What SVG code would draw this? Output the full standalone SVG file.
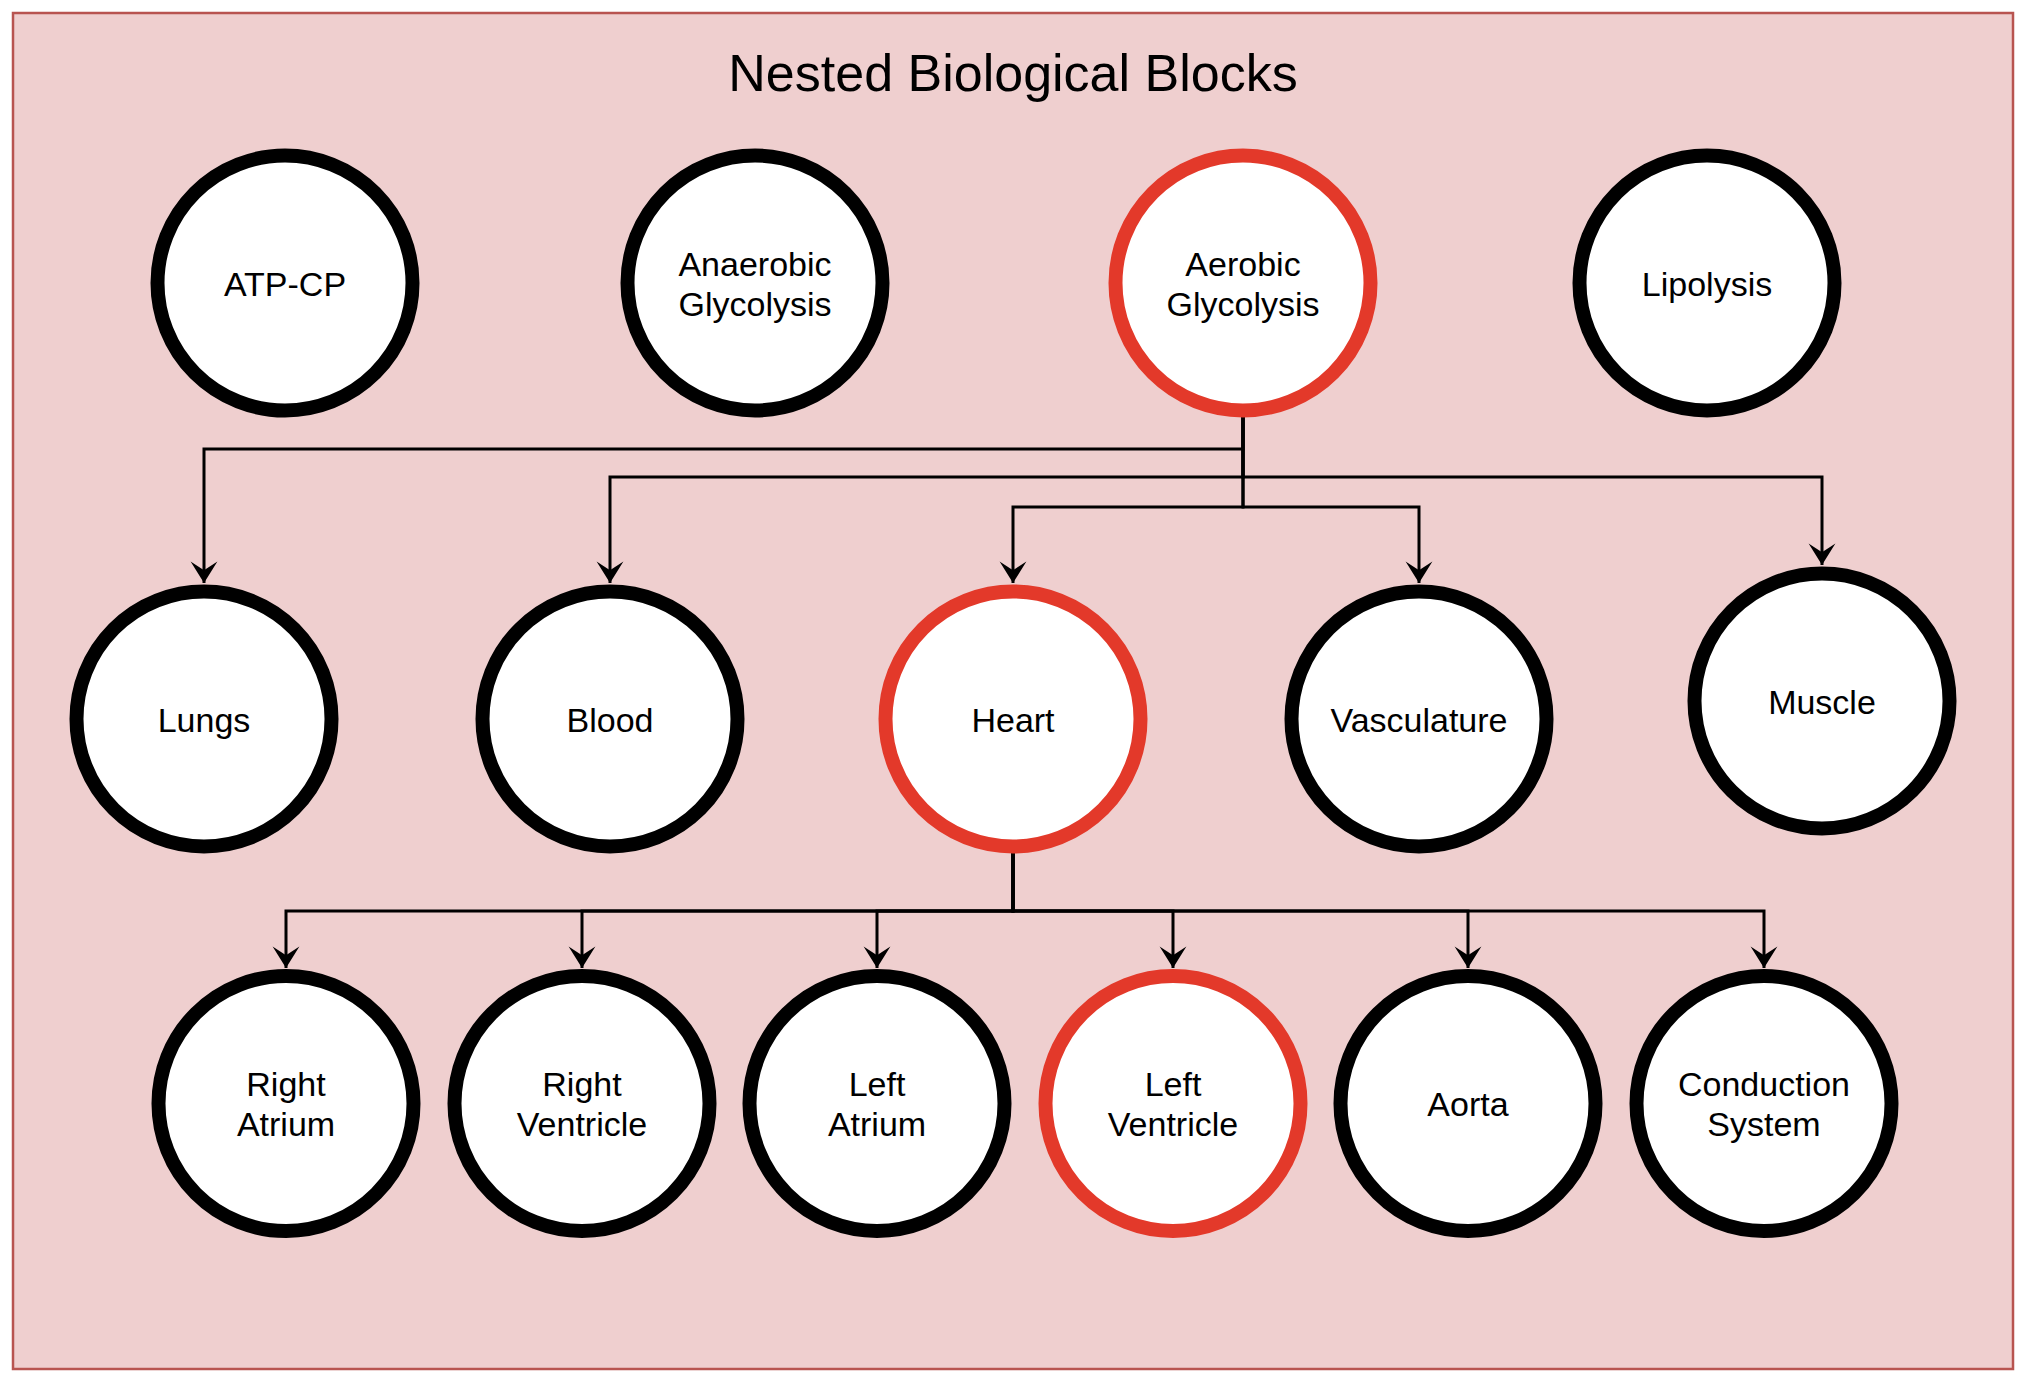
<svg xmlns="http://www.w3.org/2000/svg" width="2028" height="1386" viewBox="0 0 2028 1386">
  <style>
    .node { fill: #ffffff; stroke: #000000; stroke-width: 14; }
    .hl { stroke: #e3392a; }
    .lbl { font-family: "Liberation Sans", Arial, Helvetica, sans-serif; font-size: 34px; fill: #000000; text-anchor: middle; }
    .title { font-family: "Liberation Sans", Arial, Helvetica, sans-serif; font-size: 52px; fill: #000000; text-anchor: middle; }
    .edge { fill: none; stroke: #000000; stroke-width: 3; }
  </style>
  <defs>
    <marker id="arrow" markerUnits="userSpaceOnUse" markerWidth="24" markerHeight="30" viewBox="-21 -14 22 28" refX="0" refY="0" orient="auto">
      <path d="M0,0 L-20,-12.5 L-12,0 L-20,12.5 Z" fill="#000000"/>
    </marker>
  </defs>
  <rect x="0" y="0" width="2028" height="1386" fill="#ffffff"/>
  <rect id="frame" x="13" y="13" width="2000" height="1356" fill="#efcfcf" stroke="#b85450" stroke-width="2.5"/>
  <text class="title" x="1013" y="91">Nested Biological Blocks</text>

  <g id="connectors">
    <path class="edge" d="M1243,417 V449 H204 V583" marker-end="url(#arrow)"/>
    <path class="edge" d="M1243,417 V477 H610 V583" marker-end="url(#arrow)"/>
    <path class="edge" d="M1243,417 V477 H1822 V565" marker-end="url(#arrow)"/>
    <path class="edge" d="M1243,417 V507 H1013 V583" marker-end="url(#arrow)"/>
    <path class="edge" d="M1243,417 V507 H1419 V583" marker-end="url(#arrow)"/>
    <path class="edge" d="M1013,853 V911 H286 V968" marker-end="url(#arrow)"/>
    <path class="edge" d="M1013,853 V911 H582 V968" marker-end="url(#arrow)"/>
    <path class="edge" d="M1013,853 V911 H877 V968" marker-end="url(#arrow)"/>
    <path class="edge" d="M1013,853 V911 H1173 V968" marker-end="url(#arrow)"/>
    <path class="edge" d="M1013,853 V911 H1468 V968" marker-end="url(#arrow)"/>
    <path class="edge" d="M1013,853 V911 H1764 V968" marker-end="url(#arrow)"/>
  </g>

  <g id="atp-cp">
    <circle class="node" cx="285" cy="283" r="127.5"/>
    <text class="lbl" x="285" y="295.5">ATP-CP</text>
  </g>
  <g id="anaerobic-glycolysis">
    <circle class="node" cx="755" cy="283" r="127.5"/>
    <text class="lbl" x="755" y="275.5">Anaerobic</text>
    <text class="lbl" x="755" y="315.5">Glycolysis</text>
  </g>
  <g id="aerobic-glycolysis">
    <circle class="node hl" cx="1243" cy="283" r="127.5"/>
    <text class="lbl" x="1243" y="275.5">Aerobic</text>
    <text class="lbl" x="1243" y="315.5">Glycolysis</text>
  </g>
  <g id="lipolysis">
    <circle class="node" cx="1707" cy="283" r="127.5"/>
    <text class="lbl" x="1707" y="295.5">Lipolysis</text>
  </g>

  <g id="lungs">
    <circle class="node" cx="204" cy="719" r="127.5"/>
    <text class="lbl" x="204" y="731.5">Lungs</text>
  </g>
  <g id="blood">
    <circle class="node" cx="610" cy="719" r="127.5"/>
    <text class="lbl" x="610" y="731.5">Blood</text>
  </g>
  <g id="heart">
    <circle class="node hl" cx="1013" cy="719" r="127.5"/>
    <text class="lbl" x="1013" y="731.5">Heart</text>
  </g>
  <g id="vasculature">
    <circle class="node" cx="1419" cy="719" r="127.5"/>
    <text class="lbl" x="1419" y="731.5">Vasculature</text>
  </g>
  <g id="muscle">
    <circle class="node" cx="1822" cy="701" r="127.5"/>
    <text class="lbl" x="1822" y="713.5">Muscle</text>
  </g>

  <g id="right-atrium">
    <circle class="node" cx="286" cy="1103.5" r="127.5"/>
    <text class="lbl" x="286" y="1096">Right</text>
    <text class="lbl" x="286" y="1136">Atrium</text>
  </g>
  <g id="right-ventricle">
    <circle class="node" cx="582" cy="1103.5" r="127.5"/>
    <text class="lbl" x="582" y="1096">Right</text>
    <text class="lbl" x="582" y="1136">Ventricle</text>
  </g>
  <g id="left-atrium">
    <circle class="node" cx="877" cy="1103.5" r="127.5"/>
    <text class="lbl" x="877" y="1096">Left</text>
    <text class="lbl" x="877" y="1136">Atrium</text>
  </g>
  <g id="left-ventricle">
    <circle class="node hl" cx="1173" cy="1103.5" r="127.5"/>
    <text class="lbl" x="1173" y="1096">Left</text>
    <text class="lbl" x="1173" y="1136">Ventricle</text>
  </g>
  <g id="aorta">
    <circle class="node" cx="1468" cy="1103.5" r="127.5"/>
    <text class="lbl" x="1468" y="1116">Aorta</text>
  </g>
  <g id="conduction-system">
    <circle class="node" cx="1764" cy="1103.5" r="127.5"/>
    <text class="lbl" x="1764" y="1096">Conduction</text>
    <text class="lbl" x="1764" y="1136">System</text>
  </g>
</svg>
